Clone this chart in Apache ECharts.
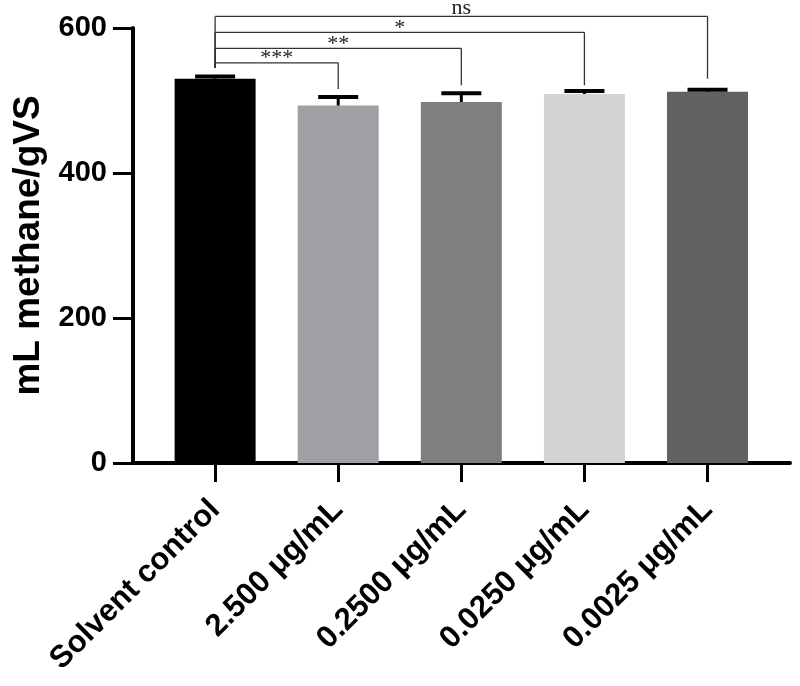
<!DOCTYPE html>
<html>
<head>
<meta charset="utf-8">
<script src="https://cdn.jsdelivr.net/npm/echarts@6/dist/echarts.min.js"></script>
<style>html,body{margin:0;padding:0;background:#fff}#c{width:800px;height:686px}</style>
</head>
<body>
<div id="c"></div>
<script>
// ---- data ----
const categories = ['Solvent control', '2.500 μg/mL', '0.2500 μg/mL', '0.0250 μg/mL', '0.0025 μg/mL'];
const means = [530, 493, 498, 509, 512];
const errors = [3, 12, 12, 4, 3];
const barColors = ['#000000', '#a0a0a4', '#7f7f7f', '#d3d3d3', '#626262'];
const yTicks = [0, 200, 400, 600];
// significance brackets (from Solvent control to target)
const bracketTargets = [1, 2, 3, 4];
const bracketLevels = [552, 572, 594, 616];
const bracketEnds = [516, 521, 521, 530];
const bracketStart = 545;
const bracketLabels = ['***', '**', '*', 'ns'];

const idx = categories.map((c, i) => i);
const chart = echarts.init(document.getElementById('c'));

const barData = means.map((v, i) => ({ value: [i, v], itemStyle: { color: barColors[i] } }));
const errData = means.map((v, i) => [i, v, errors[i]]);
const brData = bracketTargets.map((t, i) => [0, t, bracketLevels[i], bracketStart, bracketEnds[i], bracketLabels[i]]);

chart.setOption({
  animation: false,
  backgroundColor: '#fff',
  grid: { left: 133, right: 10, top: 28, bottom: 223, containLabel: false },
  xAxis: {
    type: 'value',
    min: -0.667, max: 4.67,
    splitLine: { show: false },
    axisLine: { show: true, onZero: false, lineStyle: { color: '#000', width: 4 } },
    axisTick: { show: true, customValues: idx, length: 19, lineStyle: { color: '#000', width: 3 } },
    axisLabel: {
      customValues: idx,
      formatter: v => categories[Math.round(v)],
      rotate: 45, margin: 42,
      fontFamily: 'Liberation Sans, Arial', fontWeight: 'bold', fontSize: 31, color: '#000'
    }
  },
  yAxis: {
    type: 'value', min: 0, max: 600, interval: 200,
    name: 'mL methane/gVS', nameLocation: 'middle', nameGap: 80,
    nameTextStyle: { fontFamily: 'Liberation Sans, Arial', fontWeight: 'bold', fontSize: 37, color: '#000' },
    splitLine: { show: false },
    axisLine: { show: true, onZero: false, lineStyle: { color: '#000', width: 4 } },
    axisTick: { show: true, length: 20, lineStyle: { color: '#000', width: 3 } },
    axisLabel: { margin: 26, fontFamily: 'Liberation Sans, Arial', fontWeight: 'bold', fontSize: 29, color: '#000' }
  },
  series: [
    { type: 'bar', data: barData, barWidth: 81, z: 2 },
    {
      type: 'custom', data: errData, z: 3, clip: false,
      renderItem: (params, api) => {
        const x = api.value(0), m = api.value(1), e = api.value(2);
        const p0 = api.coord([x, m]);
        const p1 = api.coord([x, m + e]);
        return { type: 'group', children: [
          { type: 'line', shape: { x1: p0[0], y1: p0[1], x2: p1[0], y2: p1[1] }, style: { stroke: '#000', lineWidth: 3 } },
          { type: 'line', shape: { x1: p1[0] - 20, y1: p1[1], x2: p1[0] + 20, y2: p1[1] }, style: { stroke: '#000', lineWidth: 4 } }
        ]};
      }
    },
    {
      type: 'custom', data: brData, z: 4, clip: false,
      renderItem: (params, api) => {
        const a = api.value(0), b = api.value(1), lv = api.value(2), s = api.value(3), en = api.value(4);
        const lab = brData[params.dataIndex][5];
        const pl = api.coord([a, lv]), pr = api.coord([b, lv]);
        const ps = api.coord([a, s]), pe = api.coord([b, en]);
        const st = { stroke: '#333', lineWidth: 1.3 };
        const isNs = lab === 'ns';
        return { type: 'group', children: [
          { type: 'line', shape: { x1: pl[0], y1: pl[1], x2: pr[0], y2: pr[1] }, style: st },
          { type: 'line', shape: { x1: pl[0], y1: pl[1], x2: ps[0], y2: ps[1] }, style: st },
          { type: 'line', shape: { x1: pr[0], y1: pr[1], x2: pe[0], y2: pe[1] }, style: st },
          { type: 'text', x: (pl[0] + pr[0]) / 2, y: pl[1] - (isNs ? 8.5 : 4.5),
            style: { text: lab, align: 'center', verticalAlign: 'middle',
              font: '22px "Liberation Serif", "Times New Roman", serif', fill: '#222' } }
        ]};
      }
    }
  ]
});
</script>
</body>
</html>
